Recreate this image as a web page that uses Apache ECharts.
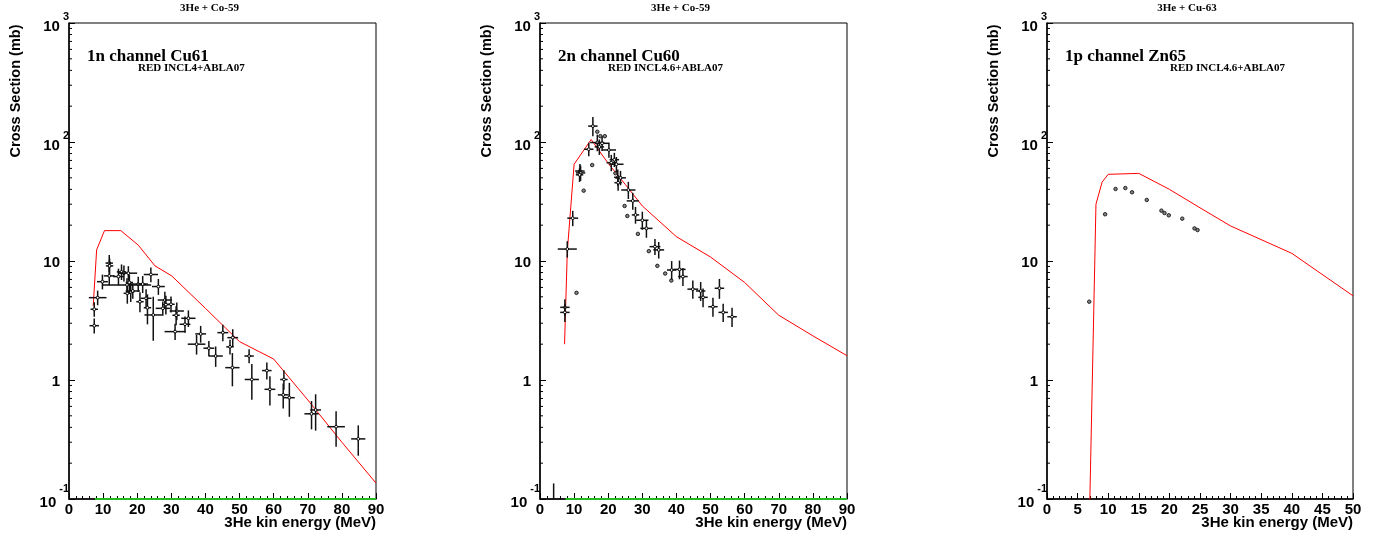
<!DOCTYPE html>
<html><head><meta charset="utf-8">
<script src="https://cdn.jsdelivr.net/npm/echarts@6/dist/echarts.min.js"></script>
<style>html,body{margin:0;padding:0;background:#fff}#c{width:1385px;height:537px}</style>
</head><body><div id="c"></div>
<script>
// ---------- texts ----------
const panelTitles = ['3He + Co-59', '3He + Co-59', '3He + Cu-63'];
const channelLabels = ['1n channel Cu61', '2n channel Cu60', '1p channel Zn65'];
const modelLabels = ['RED INCL4+ABLA07', 'RED INCL4.6+ABLA07', 'RED INCL4.6+ABLA07'];
const xAxisTitle = '3He kin energy (MeV)';
const yAxisTitle = 'Cross Section (mb)';

// ---------- axes ----------
const xMaxes = [90, 90, 50];
const xIntervals = [10, 10, 5];
const yMin = 0.1, yMax = 1000;
const yMajorTicks = [0.1, 1, 10, 100, 1000];
const yMinorTicks = [0.2,0.3,0.4,0.5,0.6,0.7,0.8,0.9, 2,3,4,5,6,7,8,9, 20,30,40,50,60,70,80,90, 200,300,400,500,600,700,800,900];

// ---------- panel 1 : 3He + Co-59 -> Cu61 ----------
const cu61Model = [[7.1,4.2],[8.1,12.4],[10.4,18],[15.2,18],[20.3,13.6],[25.2,9.1],[30.1,7.5],[40,4.0],[50,2.1],[60,1.5],[70,0.68],[80,0.30],[90,0.136]];
// [E, sigma, xerr, yerr]
const cu61Exp = [
 [7.4,3.93,0.5,0.4],[7.4,2.86,0.8,0.3],[8.4,4.92,2.0,0.5],[9.8,6.7,1.0,0.7],[11.8,9.6,0.5,1.2],
 [11.9,9.1,0.5,1.0],[11.8,7.5,1.0,1.0],[14.5,7.4,1.0,0.9],[15.4,8.1,0.8,0.9],[16.1,7.9,1.0,0.9],
 [17.4,7.9,2.0,0.8],[17.7,6.6,0.5,0.8],[17.1,5.35,0.5,0.8],[18.1,5.5,0.5,0.8],[18.7,5.6,1.5,0.6],
 [17.0,6.3,6.5,0.6],[20.3,6.4,1.5,0.7],[21.6,6.4,1.0,0.8],[20.8,4.55,0.5,0.7],[22.6,4.86,1.0,0.7],
 [23.0,4.05,0.5,1.0],[24.0,7.7,1.5,0.8],[24.7,3.52,2.0,1.3],[26.2,6.1,1.3,0.7],[27.5,4.0,1.5,0.4],
 [28.1,4.7,1.5,0.6],[28.4,4.3,0.5,0.6],[29.9,4.33,0.5,0.5],[31.6,3.8,1.5,0.5],[31.4,3.5,0.5,0.5],
 [34.0,2.94,1.0,0.35],[35.0,3.3,1.5,0.4],[31.1,2.55,2.5,0.3],[37.4,2.0,2.0,0.3],[38.6,2.44,1.0,0.3],
 [41.0,1.85,1.0,0.2],[43.0,1.59,1.5,0.25],[45.1,2.5,1.0,0.3],[47.2,1.9,0.5,0.2],[48.0,2.27,1.0,0.3],
 [47.9,1.27,1.5,0.35],[52.8,1.59,0.8,0.15],[53.6,1.01,1.5,0.3],[58.0,1.2,0.8,0.15],[58.9,0.835,1.0,0.2],
 [63.0,1.01,0.5,0.15],[62.8,0.75,1.0,0.15],[64.6,0.71,1.0,0.2],[71.1,0.52,1.5,0.12],[72.3,0.56,1.0,0.17],
 [78.3,0.405,2.0,0.12],[84.8,0.32,1.5,0.08]
];
const cu61Zero = [[7.6,0.1],[90,0.1]];

// ---------- panel 2 : 3He + Co-59 -> Cu60 ----------
const cu60Model = [[7.2,2.0],[8,12],[10,65],[15,105],[20,66],[25,44],[30,29],[40,16],[50,10.8],[60,6.6],[70,3.5],[80,2.35],[90,1.6]];
const cu60Exp = [
 [4.0,0.08,0,0.05],
 [7.3,4.08,0.8,0.5],[7.3,3.7,0.8,0.5],[8.0,12.6,2.2,1.5],[9.6,22.9,1.0,2.5],[11.7,57,0.8,6],
 [11.9,55,0.8,6],[11.6,53,0.5,5],[14.3,86.9,0.8,8],[15.5,136,0.8,20],[16.8,99,1.5,12],
 [17.4,91,0.8,10],[18.2,97.5,1.5,10],[20.2,85.7,1.5,9],[20.9,67,0.8,8],[21.8,71,0.8,7],
 [22.4,65,1.5,7],[22.8,50.5,0.5,6],[23.6,50,1.0,5],[22.9,45.5,0.5,5],[25.9,39.5,1.5,5],
 [27.2,32,1.2,4],[28.0,24.4,0.5,3],[30.0,22,1.2,3],[31.2,18.8,1.2,2.5],[33.7,13.2,1.0,1.5],
 [34.8,12.4,1.0,1.5],[38.6,8.4,0.8,1.2],[40.9,8.5,1.2,1.2],[41.9,7.4,0.8,1.0],[44.8,5.8,1.0,0.8],
 [47.1,5.6,0.8,0.8],[47.8,4.95,0.8,0.7],[52.6,5.9,0.8,0.9],[50.7,4.13,0.8,0.6],[53.7,3.7,0.8,0.5],
 [56.3,3.4,0.8,0.5]
];
const cu60Dots = [[10.7,5.4],[12.8,39],[15.3,64],[16.8,122],[17.7,112],[19.0,112],[22.1,54.6],[24.8,29],[25.6,23.9],[28.7,16.9],[31.9,12.1],[34.4,9.1],[36.7,7.85],[38.5,6.85]];
const cu60Zero = [[7.5,0.1],[90,0.1]];

// ---------- panel 3 : 3He + Cu-63 -> Zn65 ----------
const zn65Model = [[6.6,0.01],[8,30],[9,46],[10,53.5],[15,54.5],[20,40],[25,28],[30,19.7],[40,11.6],[50,5.1]];
const zn65Dots = [[6.9,4.55],[9.5,24.7],[11.2,40.3],[12.8,41],[13.9,37.8],[16.3,32.6],[18.7,26.5],[19.2,25.3],[19.9,24.2],[22.1,22.7],[24.1,18.8],[24.6,18.2]];

// ---------- layout ----------
const grids = [
  {left: 69, top: 23, width: 307, height: 476},
  {left: 540, top: 23, width: 307, height: 476},
  {left: 1047, top: 23, width: 306, height: 476}
];
const SANS = '"Liberation Sans", Arial, Helvetica, sans-serif';
const SERIF = '"Liberation Serif", "Times New Roman", serif';

function yLabel(v) {
  const e = Math.round(Math.log10(v));
  if (e === 0) return '{b|1}';
  if (e === 1) return '{b|10}';
  if (e < 0) return '{bn|10}{n|' + e + '}';
  return '{bs|10}{s|' + e + '}';
}
const yRich = {
  b:  {fontFamily: SANS, fontWeight: 'bold', fontSize: 15, color: '#000', lineHeight: 15, padding: [3, 9, 0, 0]},
  bs: {fontFamily: SANS, fontWeight: 'bold', fontSize: 15, color: '#000', lineHeight: 15, padding: [8, 0, 0, 0]},
  s:  {fontFamily: SANS, fontWeight: 'bold', fontSize: 11, color: '#000', lineHeight: 11, padding: [0, 0, 12, 3]},
  bn: {fontFamily: SANS, fontWeight: 'bold', fontSize: 15, color: '#000', lineHeight: 15, padding: [8, 0, 0, 0]},
  n:  {fontFamily: SANS, fontWeight: 'bold', fontSize: 11, color: '#000', lineHeight: 11, padding: [0, 0, 20, 3]}
};

const xAxes = [], yAxes = [], series = [], graphics = [];
grids.forEach((g, i) => {
  xAxes.push({
    gridIndex: i, type: 'value', min: 0, max: xMaxes[i], interval: xIntervals[i],
    axisLine: {show: true, onZero: false, lineStyle: {color: '#000', width: 1.5}},
    axisTick: {show: true, inside: true, length: 6, lineStyle: {color: '#000', width: 1}},
    minorTick: {show: true, splitNumber: 5, length: 3, lineStyle: {color: '#000', width: 1}},
    axisLabel: {color: '#000', fontFamily: SANS, fontWeight: 'bold', fontSize: 15, margin: 3},
    splitLine: {show: false}, minorSplitLine: {show: false}
  });
  yAxes.push({
    gridIndex: i, type: 'log', logBase: 10, min: yMin, max: yMax,
    axisLine: {show: true, onZero: false, lineStyle: {color: '#000', width: 1.5}},
    axisTick: {show: true, inside: true, length: 6, customValues: yMajorTicks, lineStyle: {color: '#000', width: 1}},
    axisLabel: {customValues: yMajorTicks, formatter: yLabel, rich: yRich, margin: 0, color: '#000'},
    splitLine: {show: false}
  });

  // texts
  const cx = g.left + g.width / 2 - 13;
  graphics.push({type: 'text', x: cx, y: 8, style: {text: panelTitles[i], font: 'bold 11px ' + SERIF, fill: '#000', align: 'center', verticalAlign: 'middle'}});
  graphics.push({type: 'text', x: g.left + 18, y: 57, style: {text: channelLabels[i], font: 'bold 17px ' + SERIF, fill: '#000', align: 'left', verticalAlign: 'middle'}});
  const mx = [138 - 69, 608 - 540, 1170 - 1047][i];
  graphics.push({type: 'text', x: g.left + mx, y: 68, style: {text: modelLabels[i], font: 'bold 11px ' + SERIF, fill: '#000', align: 'left', verticalAlign: 'middle'}});
  graphics.push({type: 'text', x: g.left + g.width, y: 523, style: {text: xAxisTitle, font: 'bold 15px ' + SANS, fill: '#000', align: 'right', verticalAlign: 'middle'}});
  graphics.push({type: 'text', x: g.left - 53, y: 91, rotation: Math.PI / 2, style: {text: yAxisTitle, font: 'bold 14.5px ' + SANS, fill: '#000', align: 'center', verticalAlign: 'middle'}});
});

// minor log ticks on the left axis, placed through the axis scale
function minorTickRender(params, api) {
  const p = api.coord([api.value(0), api.value(1)]);
  const x0 = params.coordSys.x;
  return {type: 'line', shape: {x1: x0, y1: p[1], x2: x0 + 3, y2: p[1]}, style: {stroke: '#000', lineWidth: 1}};
}
function errRender(params, api) {
  const E = api.value(0), v = api.value(1), ex = api.value(2), ey = api.value(3);
  const c = api.coord([E, v]);
  const l = api.coord([E - ex, v]), r = api.coord([E + ex, v]);
  const lo = api.coord([E, Math.max(v - ey, 1e-4)]), hi = api.coord([E, v + ey]);
  const st = {stroke: '#111', lineWidth: 1.5};
  return {
    type: 'group',
    children: [
      {type: 'line', shape: {x1: l[0] - 2, y1: l[1], x2: r[0] + 2, y2: r[1]}, style: st},
      {type: 'line', shape: {x1: lo[0], y1: lo[1] + 2, x2: hi[0], y2: hi[1] - 2}, style: st},
      {type: 'circle', shape: {cx: c[0], cy: c[1], r: 1.4}, style: {fill: '#fff', stroke: '#000', lineWidth: 1}}
    ]
  };
}
function modelSeries(i, data) {
  return {type: 'line', xAxisIndex: i, yAxisIndex: i, data: data, showSymbol: false, symbol: 'none',
    lineStyle: {color: '#ff0000', width: 1}, clip: true, z: 4, silent: true};
}
function zeroSeries(i, data) {
  return {type: 'line', xAxisIndex: i, yAxisIndex: i, data: data, showSymbol: false, symbol: 'none',
    lineStyle: {color: '#22bb22', width: 2}, clip: false, z: 6, silent: true};
}
function errSeries(i, data) {
  return {type: 'custom', xAxisIndex: i, yAxisIndex: i, data: data, renderItem: errRender, clip: true, z: 5, silent: true};
}
function dotSeries(i, data) {
  return {type: 'scatter', xAxisIndex: i, yAxisIndex: i, data: data, symbol: 'circle', symbolSize: 3.5,
    itemStyle: {color: '#666', borderColor: '#000', borderWidth: 1}, z: 5, silent: true};
}
function minorTickSeries(i) {
  return {type: 'custom', xAxisIndex: i, yAxisIndex: i, data: yMinorTicks.map(v => [0, v]), renderItem: minorTickRender, clip: false, z: 7, silent: true};
}

series.push(modelSeries(0, cu61Model), zeroSeries(0, cu61Zero), errSeries(0, cu61Exp), minorTickSeries(0));
series.push(modelSeries(1, cu60Model), zeroSeries(1, cu60Zero), errSeries(1, cu60Exp), dotSeries(1, cu60Dots), minorTickSeries(1));
series.push(modelSeries(2, zn65Model), dotSeries(2, zn65Dots), minorTickSeries(2));

const chart = echarts.init(document.getElementById('c'), null, {renderer: 'canvas'});
chart.setOption({
  animation: false,
  backgroundColor: '#fff',
  grid: grids.map(g => Object.assign({show: true, borderColor: '#000', borderWidth: 1, backgroundColor: 'transparent'}, g)),
  xAxis: xAxes,
  yAxis: yAxes,
  series: series,
  graphic: graphics
});
</script>
</body></html>
